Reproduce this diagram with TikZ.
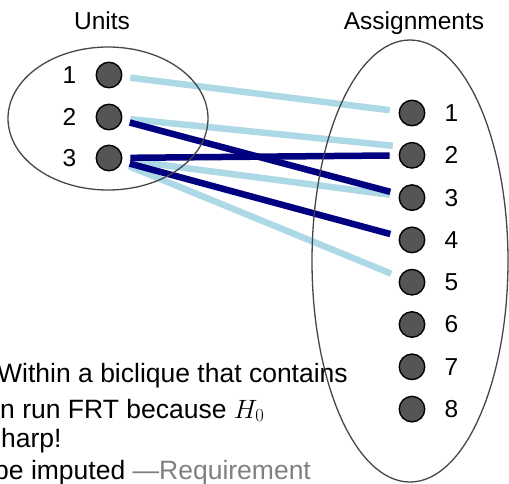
\RequirePackage{fix-cm}
\documentclass[tikz,border=0pt]{standalone}
\usepackage{fontspec}
\setmainfont{Liberation Sans}
\usetikzlibrary{shapes.geometric}

\definecolor{edgelight}{RGB}{173,216,230}
\definecolor{edgedark}{RGB}{0,0,128}
\definecolor{dotfill}{RGB}{85,85,85}
\definecolor{rim}{RGB}{70,70,70}

\begin{document}
\begin{tikzpicture}[x=1pt,y=-1pt,
  dot/.style={circle,draw=black,line width=1.4pt,fill=dotfill,minimum size=25.5pt,inner sep=0pt},
  num/.style={font=\fontsize{24.5}{28}\selectfont,inner sep=0pt},
  head/.style={font=\fontsize{24.5}{28}\selectfont,inner sep=0pt,anchor=base},
  note/.style={font=\fontsize{26.5}{30}\selectfont,inner sep=0pt,anchor=base west},
  link/.style={line width=6.5pt,shorten <=8pt,shorten >=9pt},
  weak/.style={link,edgelight},
  strong/.style={link,edgedark},
  group/.style={ellipse,draw=rim,line width=1.3pt,inner sep=0pt}]
  \useasboundingbox (0,0) rectangle (509,483);

  % units and assignments
  \foreach \i/\y in {1/75,2/117,3/158}
    \node[dot,label={[num,label distance=19pt]left:\i}] (u\i) at (109,\y) {};
  \foreach \i in {1,...,8}
    \node[dot,label={[num,label distance=19pt]right:\i}] (a\i) at (412,{113+(\i-1)*42.3}) {};

  % edges
  \draw[weak] (u1) -- (a1);
  \draw[weak] (u2) -- (a2.140);
  \draw[weak] (u3) -- (a3);
  \draw[weak] (u3) -- (a5);
  \draw[strong] (u2) -- (a3);
  \draw[strong] (u3) -- (a2);
  \draw[strong] (u3) -- (a4);

  % the two sides
  \node[group,minimum width=200pt,minimum height=143pt] (unitset) at (108,118.5) {};
  \node[group,minimum width=196pt,minimum height=442pt] (assignset) at (410,261) {};
  \node[head] (unithead) at (102,29) {Units};
  \node[head] (assignhead) at (414,29) {Assignments};

  % text running in from the left
  \node[note] (l1) at (-3,382) {Within a biclique that contains};
  \node[note] (l2) at (0,418) {n run FRT because $H_0$};
  \node[note] (l3) at (1,447) {harp!};
  \node[note] (l4) at (-6,479) {be imputed \textcolor{gray}{—Requirement}};
\end{tikzpicture}
\end{document}
